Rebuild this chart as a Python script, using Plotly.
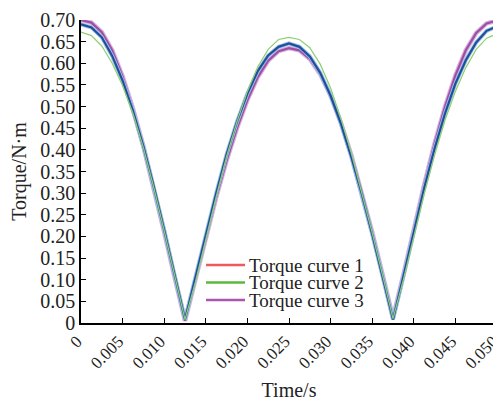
import plotly.graph_objects as go

time_s = [i * 0.00125 for i in range(41)]

curve1 = [0.690, 0.683, 0.660, 0.617, 0.560, 0.490, 0.408, 0.315, 0.215, 0.110, 0.008,
          0.105, 0.205, 0.300, 0.390, 0.465, 0.530, 0.582, 0.618, 0.638, 0.646,
          0.638, 0.616, 0.578, 0.525, 0.460, 0.383, 0.298, 0.205, 0.108, 0.008,
          0.108, 0.212, 0.312, 0.403, 0.484, 0.553, 0.607, 0.648, 0.675, 0.685]
curve2 = [0.672, 0.664, 0.640, 0.600, 0.548, 0.484, 0.405, 0.313, 0.213, 0.110, 0.008,
          0.095, 0.195, 0.292, 0.385, 0.465, 0.535, 0.592, 0.632, 0.655, 0.660,
          0.655, 0.636, 0.598, 0.543, 0.472, 0.392, 0.303, 0.208, 0.110, 0.010,
          0.100, 0.200, 0.298, 0.388, 0.468, 0.535, 0.590, 0.632, 0.658, 0.668]
curve3 = [0.700, 0.694, 0.672, 0.630, 0.570, 0.495, 0.408, 0.312, 0.210, 0.105, 0.005,
          0.100, 0.198, 0.290, 0.375, 0.450, 0.515, 0.568, 0.606, 0.628, 0.635,
          0.630, 0.610, 0.575, 0.525, 0.462, 0.387, 0.302, 0.210, 0.112, 0.012,
          0.112, 0.218, 0.320, 0.415, 0.500, 0.572, 0.630, 0.670, 0.692, 0.699]

names = ["Torque curve 1", "Torque curve 2", "Torque curve 3"]
legend_colors = ["#ee5a5a", "#5cb83c", "#a855b0"]

x_tickvals = [0, 0.005, 0.010, 0.015, 0.020, 0.025, 0.030, 0.035, 0.040, 0.045, 0.050]
x_ticktext = ["0", "0.005", "0.010", "0.015", "0.020", "0.025", "0.030", "0.035", "0.040", "0.045", "0.050"]
y_tickvals = [0, 0.05, 0.10, 0.15, 0.20, 0.25, 0.30, 0.35, 0.40, 0.45, 0.50, 0.55, 0.60, 0.65, 0.70]
y_ticktext = ["0", "0.05", "0.10", "0.15", "0.20", "0.25", "0.30", "0.35", "0.40", "0.45", "0.50",
              "0.55", "0.60", "0.65", "0.70"]

FONT = "Liberation Serif, Times New Roman, serif"
TXT = "#222222"

# the page body adds an 8px offset; the figure is sized so the plot area lands at
# x 81..497, y 20..323 in the 501x401 window
fig = go.Figure()
fig.add_trace(go.Scatter(x=time_s, y=curve1, mode="lines", name=names[0],
                         line=dict(color=legend_colors[0], width=2), showlegend=False))
fig.add_trace(go.Scatter(x=time_s, y=curve3, mode="lines", name=names[2],
                         line=dict(color="#d8b0dc", width=4.5), showlegend=False))
fig.add_trace(go.Scatter(x=time_s, y=curve3, mode="lines", name=names[2],
                         line=dict(color="#9c4fa6", width=2.2), showlegend=False))
fig.add_trace(go.Scatter(x=time_s, y=curve1, mode="lines", name=names[0],
                         line=dict(color="#9fc0e6", width=4), showlegend=False))
fig.add_trace(go.Scatter(x=time_s, y=curve1, mode="lines", name=names[0],
                         line=dict(color="#1d4f9c", width=2.2), showlegend=False))
fig.add_trace(go.Scatter(x=time_s, y=curve2, mode="lines", name=names[1],
                         line=dict(color="#8fcf70", width=1.2), showlegend=False))

# manual legend (positions in window pixels relative to plot area 81..497 / 20..323)
leg_x0, leg_x1, leg_y0, leg_dy = 206, 245, 265, 17.5
for i, (nm, col) in enumerate(zip(names, legend_colors)):
    yy = leg_y0 + i * leg_dy
    fig.add_shape(type="line", xref="paper", yref="paper",
                  x0=(leg_x0 - 81) / 416, x1=(leg_x1 - 81) / 416,
                  y0=(323 - yy) / 303, y1=(323 - yy) / 303,
                  line=dict(color=col, width=2.5))
    fig.add_annotation(text=nm, xref="paper", yref="paper",
                       x=(leg_x1 + 2 - 81) / 416, y=(323 - yy) / 303,
                       xanchor="left", yanchor="middle", showarrow=False,
                       font=dict(family=FONT, size=19, color=TXT))

fig.update_layout(
    template="none",
    width=493, height=393,
    margin=dict(l=73, r=4, t=12, b=78),
    plot_bgcolor="white", paper_bgcolor="white",
    showlegend=False,
    font=dict(family=FONT, size=19, color=TXT),
    xaxis=dict(range=[0, 0.050], tickvals=x_tickvals, ticktext=x_ticktext, automargin=False,
               ticklabeloverflow="allow", ticklabelshift=-4,
               tickangle=-45, ticks="inside", ticklen=5, tickcolor="black", tickwidth=1.2,
               showline=True, linecolor="black", linewidth=1.5, showgrid=False, zeroline=False,
               tickfont=dict(family=FONT, size=17, color=TXT),
               title=dict(text="Time/s", font=dict(family=FONT, size=20, color=TXT), standoff=18)),
    yaxis=dict(range=[0, 0.70], tickvals=y_tickvals, ticktext=y_ticktext, automargin=False,
               ticklabeloverflow="allow",
               ticks="inside", ticklen=5, tickcolor="black", tickwidth=1.2,
               showline=True, linecolor="black", linewidth=1.5, showgrid=False, zeroline=False,
               tickfont=dict(family=FONT, size=20, color=TXT),
               title=dict(text="Torque/N·m", font=dict(family=FONT, size=20, color=TXT), standoff=14)),
)

fig.write_html("out.html")
